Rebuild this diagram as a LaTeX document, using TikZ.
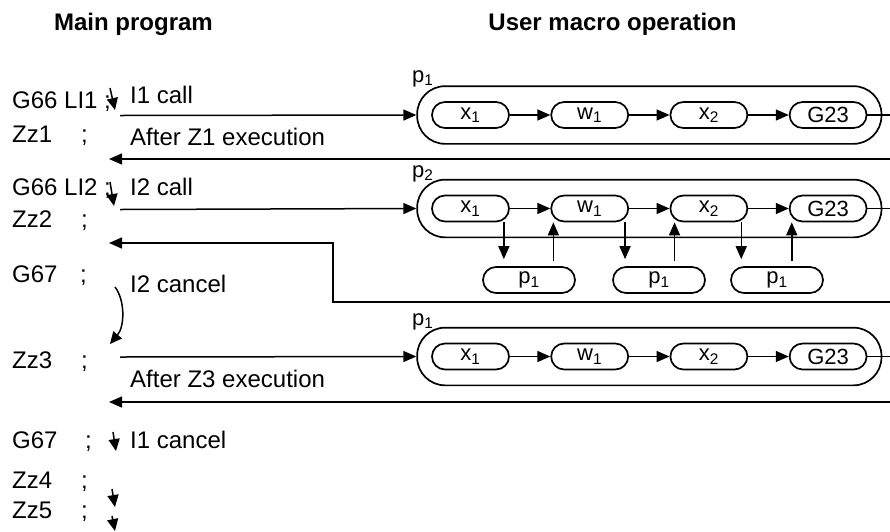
\documentclass[tikz,border=0pt]{standalone}
\usepackage{fontspec}
\setmainfont{Liberation Sans}
\usetikzlibrary{arrows.meta,positioning,fit}
\newcommand{\progline}[2][69pt]{\makebox[#1][l]{#2};}

\begin{document}
\begin{tikzpicture}[x=1pt, y=-1pt,
  node distance=40.5pt,
  heading/.style={anchor=base, inner sep=0pt, font=\fontsize{24}{28}\selectfont\bfseries},
  prog/.style={anchor=base west, inner sep=0pt, font=\fontsize{24}{28}\selectfont},
  opbox/.style={draw, line width=1.7pt, rounded corners=13pt, minimum width=77pt, minimum height=26pt,
                inner sep=0pt, font=\fontsize{22}{24}\selectfont},
  capsule/.style={draw, line width=1.7pt, rounded corners=28pt, inner xsep=14pt, inner ysep=15pt},
  plab/.style={anchor=base west, inner sep=0pt, font=\fontsize{22}{24}\selectfont},
  ln/.style={line width=1.5pt},
  arr/.style={ln, -{Triangle[length=13pt,width=11pt]}},
  sarr/.style={ln, -{Triangle[length=12pt,width=11pt]}}]
  \useasboundingbox (0,0) rectangle (890,531);
  % headings
  \node[heading] (hmain) at (133.5,30) {Main program};
  \node[heading] (hmacro) at (612.5,30) {User macro operation};
  % main program
  \node[prog] (l1) at (12,108) {G66 LI1 ;};
  \node[prog] (l2) at (12,142) {\progline{Zz1}};
  \node[prog] (l3) at (12,195) {G66 LI2 ;};
  \node[prog] (l4) at (12,227) {\progline{Zz2}};
  \node[prog] (l5) at (12,282) {\progline[68pt]{G67}};
  \node[prog] (l6) at (12,368) {\progline{Zz3}};
  \node[prog] (l7) at (12,448) {\progline[73pt]{G67}};
  \node[prog] (l8) at (12,488) {\progline{Zz4}};
  \node[prog] (l9) at (12,518) {\progline{Zz5}};
  % notes
  \node[prog] (n1) at (130,103) {I1 call};
  \node[prog] (n2) at (130,145) {After Z1 execution};
  \node[prog] (n3) at (130,195) {I2 call};
  \node[prog] (n4) at (130,292) {I2 cancel};
  \node[prog] (n5) at (130,387) {After Z3 execution};
  \node[prog] (n6) at (130,448) {I1 cancel};
  % macro rows
  \node[opbox] (x1a) at (470.5,115) {x\textsubscript{1}};
  \node[opbox, right=of x1a] (w1a) {w\textsubscript{1}};
  \node[opbox, right=of w1a] (x2a) {x\textsubscript{2}};
  \node[opbox, right=of x2a] (g23a) {G23};
  \node[capsule, fit=(x1a)(g23a)] (macroa) {};
  \node[plab] (pa) at (412,82) {p\textsubscript{1}};

  \node[opbox] (x1b) at (470.5,208.5) {x\textsubscript{1}};
  \node[opbox, right=of x1b] (w1b) {w\textsubscript{1}};
  \node[opbox, right=of w1b] (x2b) {x\textsubscript{2}};
  \node[opbox, right=of x2b] (g23b) {G23};
  \node[capsule, fit=(x1b)(g23b)] (macrob) {};
  \node[plab] (pb) at (412,177) {p\textsubscript{2}};
  \node[opbox, minimum width=92pt] (sub1) at (529,280) {p\textsubscript{1}};
  \node[opbox, minimum width=92pt] (sub2) at (659,280) {p\textsubscript{1}};
  \node[opbox, minimum width=92pt] (sub3) at (777,280) {p\textsubscript{1}};

  \node[opbox] (x1c) at (470.5,356.5) {x\textsubscript{1}};
  \node[opbox, right=of x1c] (w1c) {w\textsubscript{1}};
  \node[opbox, right=of w1c] (x2c) {x\textsubscript{2}};
  \node[opbox, right=of x2c] (g23c) {G23};
  \node[capsule, fit=(x1c)(g23c)] (macroc) {};
  \node[plab] (pc) at (412,325) {p\textsubscript{1}};
  % ends of the flow lines
  \coordinate (s1) at (120,115.5);
  \coordinate (s2) at (120,209.5);
  \coordinate (s3) at (120,357);
  \coordinate (r1) at (109,159);
  \coordinate (r2) at (109,243);
  \coordinate (r3) at (109,402);
  \coordinate (k2) at (333,243);
  \coordinate (e1) at (890,159);
  \coordinate (e2) at (890,302);
  \coordinate (e3) at (890,402);
  \coordinate (f1) at (110,88);   \coordinate (t1) at (115,110);
  \coordinate (f2) at (110,182);  \coordinate (t2) at (114,206);
  \coordinate (f3) at (115,287);  \coordinate (t3) at (110,344);
  \coordinate (f4) at (113,432);  \coordinate (t4) at (116,451);
  \coordinate (f5) at (112,489);  \coordinate (t5) at (115,507);
  \coordinate (f6) at (112,516);  \coordinate (t6) at (115,531);
  % calls and returns
  \draw[arr] (s1) -- (macroa.west);
  \draw[arr] (s2) -- (macrob.west);
  \draw[arr] (s3) -- (macroc.west);
  \draw[arr] (e1) -- (r1);
  \draw[arr] (e2) -| (k2) -- (r2);
  \draw[arr] (e3) -- (r3);
  \foreach \r in {a,b,c}{
    \draw[arr] (x1\r) -- (w1\r);
    \draw[arr] (w1\r) -- (x2\r);
    \draw[arr] (x2\r) -- (g23\r);
    \draw[ln] (g23\r.east) -- (g23\r.east -| e1);
  }
  % nested calls
  \draw[arr, shorten >=7pt] ([xshift=-6pt]x1b.south east) -- ([xshift=-6pt]x1b.south east |- sub1.north);
  \draw[arr, shorten <=5pt] ([xshift=3pt]w1b.south west |- sub1.north) -- ([xshift=3pt]w1b.south west);
  \draw[arr, shorten >=7pt] ([xshift=-4pt]w1b.south east) -- ([xshift=-4pt]w1b.south east |- sub2.north);
  \draw[arr, shorten <=5pt] ([xshift=5pt]x2b.south west |- sub2.north) -- ([xshift=5pt]x2b.south west);
  \draw[arr, shorten >=7pt] ([xshift=-7pt]x2b.south east) -- ([xshift=-7pt]x2b.south east |- sub3.north);
  \draw[arr, shorten <=5pt] ([xshift=3pt]g23b.south west |- sub3.north) -- ([xshift=3pt]g23b.south west);
  % flow of the main program
  \draw[sarr] (f1) -- (t1);
  \draw[sarr] (f2) -- (t2);
  \draw[sarr] (f3) .. controls (125,300) and (125,326) .. (t3);
  \draw[sarr] (f4) -- (t4);
  \draw[sarr] (f5) -- (t5);
  \draw[sarr] (f6) -- (t6);
\end{tikzpicture}
\end{document}
